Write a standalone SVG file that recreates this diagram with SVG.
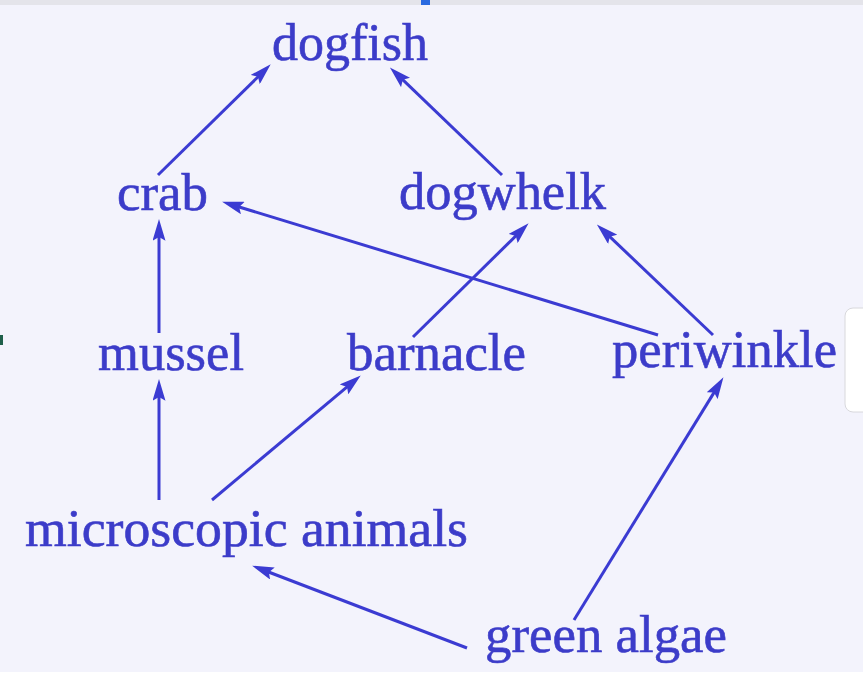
<svg xmlns="http://www.w3.org/2000/svg" width="863" height="685" viewBox="0 0 863 685">
<style>
.lbl{font-family:"Liberation Serif","Times New Roman",serif;font-size:52px;fill:#3c3cc9;stroke:#3c3cc9;stroke-width:0.6px;}
.edge{stroke:#3b3bd2;stroke-width:3;fill:none;marker-end:url(#ah);}
</style>
<defs>
<marker id="ah" markerUnits="userSpaceOnUse" markerWidth="22" markerHeight="13" refX="9" refY="6" orient="auto" viewBox="0 0 20 12">
<path d="M0,0 L20,6 L0,12 L3.5,6 Z" fill="#3b3bd2"/>
</marker>
</defs>
<rect x="0" y="0" width="863" height="685" fill="#f3f3fc"/>
<rect x="0" y="0" width="863" height="5" fill="#e4e4ea"/>
<rect x="421" y="0" width="9" height="5" fill="#2a6ae0"/>
<rect x="0" y="672" width="863" height="13" fill="#ffffff"/>
<rect x="845" y="308" width="30" height="104" rx="8" fill="#ffffff" stroke="#d8d8dc" stroke-width="1"/>
<rect x="0" y="335" width="3" height="10" fill="#1f5f4a"/>
<g id="connectors">
<path class="edge" d="M158,175 L262.2,72.7"/>
<path class="edge" d="M502,175 L398.5,75.7"/>
<path class="edge" d="M658,335 L233.5,205.2"/>
<path class="edge" d="M413,337 L520.1,231.7"/>
<path class="edge" d="M713,335 L605.5,232.6"/>
<path class="edge" d="M159,333 L159,231"/>
<path class="edge" d="M159,500 L159,391"/>
<path class="edge" d="M212,500 L351.6,383.1"/>
<path class="edge" d="M574,620 L717.2,387.4"/>
<path class="edge" d="M467,648 L263.3,570.0"/>
</g>
<g id="dogfish"><text class="lbl" x="272" y="60" textLength="156" lengthAdjust="spacingAndGlyphs">dogfish</text></g>
<g id="crab"><text class="lbl" x="117" y="210" textLength="91" lengthAdjust="spacingAndGlyphs">crab</text></g>
<g id="dogwhelk"><text class="lbl" x="399" y="209" textLength="207" lengthAdjust="spacingAndGlyphs">dogwhelk</text></g>
<g id="mussel"><text class="lbl" x="98" y="370" textLength="146" lengthAdjust="spacingAndGlyphs">mussel</text></g>
<g id="barnacle"><text class="lbl" x="347" y="370" textLength="179" lengthAdjust="spacingAndGlyphs">barnacle</text></g>
<g id="periwinkle"><text class="lbl" x="612" y="367" textLength="225" lengthAdjust="spacingAndGlyphs">periwinkle</text></g>
<g id="microscopic-animals"><text class="lbl" x="25" y="546" textLength="443" lengthAdjust="spacingAndGlyphs">microscopic animals</text></g>
<g id="green-algae"><text class="lbl" x="485" y="652" textLength="242" lengthAdjust="spacingAndGlyphs">green algae</text></g>
</svg>
